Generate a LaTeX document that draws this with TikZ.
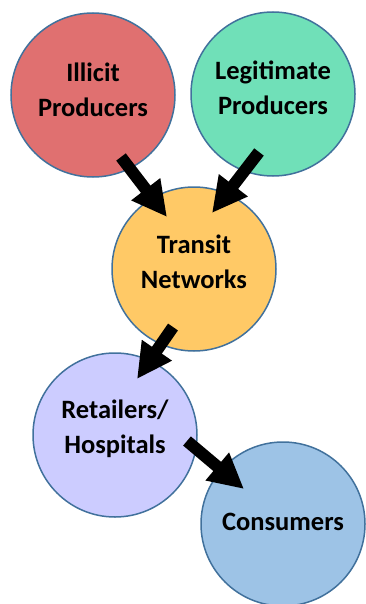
\documentclass[tikz,border=0pt]{standalone}
\usepackage{fontspec}
\setmainfont{Carlito}
\usetikzlibrary{arrows.meta}
\definecolor{illc}{HTML}{E07070}
\definecolor{legc}{HTML}{70E0B8}
\definecolor{trac}{HTML}{FFC966}
\definecolor{retc}{HTML}{CCCCFF}
\definecolor{conc}{HTML}{9DC3E6}
\definecolor{edgec}{HTML}{41719C}
\tikzset{
  bubble/.style={circle, draw=edgec, line width=1.5pt, minimum size=164pt, inner sep=0pt},
  lbl/.style={font=\bfseries\fontsize{26.5}{35}\selectfont, align=center, text=black, inner sep=0pt},
  flow/.style={line width=12pt, draw=black, -{Triangle[width=34pt,length=35pt]}}
}
\begin{document}
\begin{tikzpicture}[x=1pt,y=-1pt]
\useasboundingbox (0,0) rectangle (365,604);
\node[bubble, fill=illc] (ill) at (93,95) {};
\node[bubble, fill=legc] (leg) at (273,94) {};
\node[bubble, fill=trac] (tra) at (194,269) {};
\node[bubble, fill=retc] (ret) at (115,435) {};
\node[bubble, fill=conc] (con) at (283,524) {};
\node[lbl] (illt) at (93,90) {Illicit\\Producers};
\node[lbl] (legt) at (273,88) {Legitimate\\Producers};
\node[lbl] (trat) at (194,262) {Transit\\Networks};
\node[lbl] (rett) at (115,429) {Retailers/\\Hospitals};
\node[lbl] (cont) at (283,522) {Consumers};
\coordinate (a1s) at (121,157);
\coordinate (a1e) at (167,217);
\coordinate (a2s) at (259,152);
\coordinate (a2e) at (212,213);
\coordinate (a3s) at (173,327);
\coordinate (a3e) at (137,379);
\coordinate (a4s) at (187,441);
\coordinate (a4e) at (244,489);
\draw[flow] (a1s) -- (a1e);
\draw[flow] (a2s) -- (a2e);
\draw[flow] (a3s) -- (a3e);
\draw[flow] (a4s) -- (a4e);
\end{tikzpicture}
\end{document}
